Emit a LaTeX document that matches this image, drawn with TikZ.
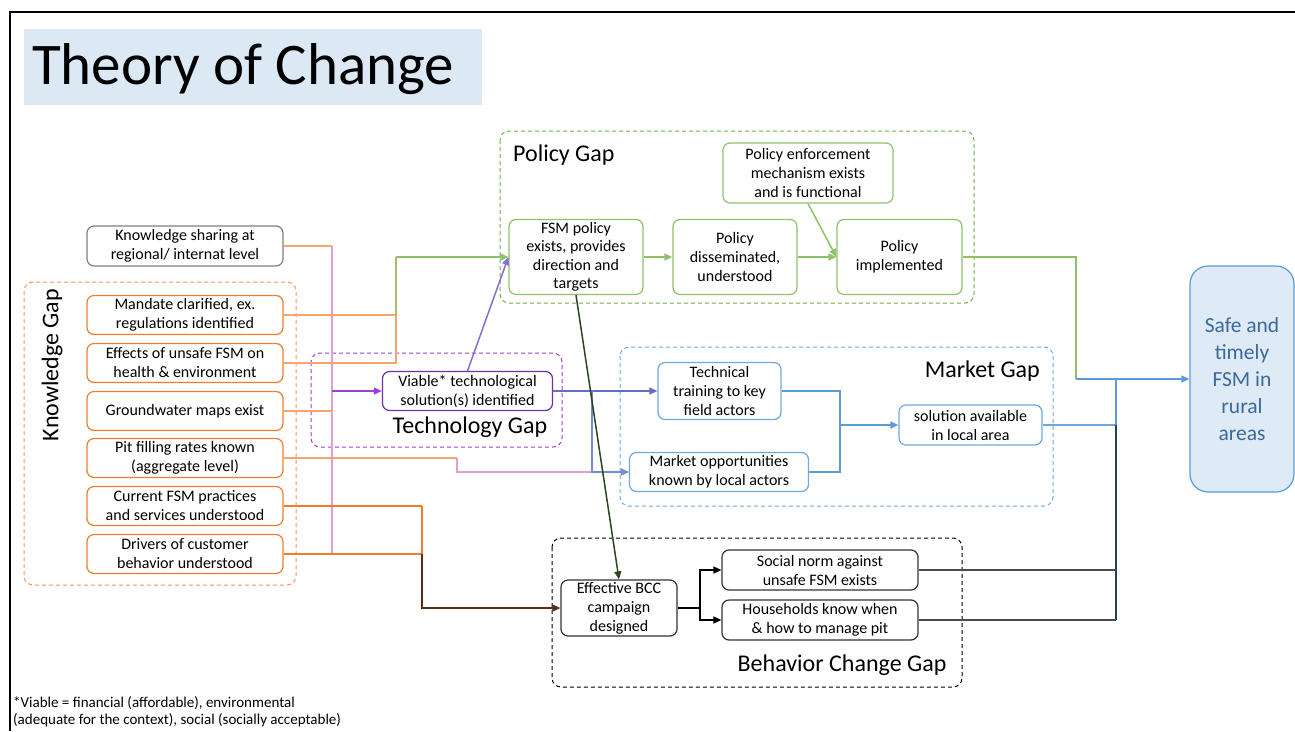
\documentclass[tikz,border=0pt]{standalone}
\usepackage{fontspec}
\setmainfont{Carlito}
\usetikzlibrary{arrows.meta}
\definecolor{korange}{HTML}{ED7D31}
\definecolor{lorange}{HTML}{F4A46C}
\definecolor{pgreen}{HTML}{70AD47}
\definecolor{lgreen}{HTML}{8DC26A}
\definecolor{mblue}{HTML}{5B9BD5}
\definecolor{lblue}{HTML}{6FA8DC}
\definecolor{tpurple}{HTML}{7030A0}
\definecolor{dpurple}{HTML}{9B3FD8}
\definecolor{pinkv}{HTML}{DFA0D0}
\definecolor{lavender}{HTML}{8A6BD8}
\definecolor{titlebg}{HTML}{DDE8F5}
\definecolor{safebg}{HTML}{DEEAF6}
\definecolor{safetext}{HTML}{3B6A99}
\definecolor{brownl}{HTML}{5A2E14}
\definecolor{kgray}{HTML}{7F7F7F}
\begin{document}
\begin{tikzpicture}[x=1pt,y=-1pt,
  box/.style={rounded corners=7pt, line width=1.2pt, align=center, inner sep=0pt, fill=white, font=\fontsize{16}{19}\selectfont},
  kbox/.style={box, draw=korange, minimum width=196pt, minimum height=39pt},
  gbox/.style={box, draw=lgreen},
  bbox/.style={box, draw=lblue},
  blkbox/.style={box, draw=black!80},
  gapbox/.style={rounded corners=9pt, line width=1pt, dash pattern=on 4pt off 3pt},
  gaplabel/.style={inner sep=0pt, font=\fontsize{24}{28}\selectfont},
  conn/.style={line width=1.5pt},
  tip/.style={-{Triangle[length=8pt,width=7pt]}}
]
\useasboundingbox (0,0) rectangle (1295,731);
% frame
\draw[line width=2pt] (10,731) -- (10,12) -- (1295,12);
% title
\fill[titlebg] (24,29) rectangle (482,105);
\node[anchor=base west, inner sep=0pt, font=\fontsize{59}{62}\selectfont] (title) at (32,84) {Theory of Change};

% gap containers
\draw[gapbox, draw=korange!80] (24,282) rectangle (296,585);
\node[gaplabel, rotate=90] (kglabel) at (52,365) {Knowledge Gap};
\draw[gapbox, draw=pgreen] (500,131) rectangle (974,303);
\node[gaplabel, anchor=west] (pglabel) at (513,155) {Policy Gap};
\draw[gapbox, draw=dpurple] (311,353) rectangle (562,447);
\node[gaplabel] (tglabel) at (470,427) {Technology Gap};
\draw[gapbox, draw=lblue] (620,347) rectangle (1053,506);
\node[gaplabel, anchor=east] (mglabel) at (1040,371) {Market Gap};
\draw[gapbox, draw=black] (552,538) rectangle (962,687);
\node[gaplabel] (bglabel) at (842,665) {Behavior Change Gap};

% knowledge boxes
\node[kbox, draw=kgray, minimum height=40pt] (ks) at (185,246) {Knowledge sharing at\\regional/ internat level};
\node[kbox] (mand) at (185,315) {Mandate clarified, ex.\\regulations identified};
\node[kbox] (eff) at (185,363) {Effects of unsafe FSM on\\health \& environment};
\node[kbox] (gw) at (185,411) {Groundwater maps exist};
\node[kbox] (pit) at (185,458) {Pit filling rates known\\(aggregate level)};
\node[kbox] (cur) at (185,506) {Current FSM practices\\and services understood};
\node[kbox] (drv) at (185,554) {Drivers of customer\\behavior understood};

% policy boxes
\node[gbox, minimum width=134pt, minimum height=75pt, font=\fontsize{16}{18.5}\selectfont] (fsm) at (576,257) {FSM policy\\exists, provides\\direction and\\targets};
\node[gbox, minimum width=124pt, minimum height=75pt] (dis) at (735,257) {Policy\\disseminated,\\understood};
\node[gbox, minimum width=125pt, minimum height=75pt] (impl) at (899.5,257) {Policy\\implemented};
\node[gbox, minimum width=170pt, minimum height=60pt] (enf) at (808,173) {Policy enforcement\\mechanism exists\\and is functional};

% technology
\node[box, draw=tpurple, minimum width=170pt, minimum height=39pt] (via) at (467.5,391) {Viable* technological\\solution(s) identified};

% market
\node[bbox, minimum width=123pt, minimum height=57pt] (tt) at (719.5,391) {Technical\\training to key\\field actors};
\node[bbox, minimum width=179pt, minimum height=39pt] (mop) at (719,472) {Market opportunities\\known by local actors};
\node[bbox, minimum width=143pt, minimum height=40pt] (sol) at (970.5,425) {solution available\\in local area};

% behavior
\node[blkbox, minimum width=116pt, minimum height=56pt] (bcc) at (619,608) {Effective BCC\\campaign\\designed};
\node[blkbox, minimum width=196pt, minimum height=40pt] (soc) at (820,570) {Social norm against\\unsafe FSM exists};
\node[blkbox, minimum width=196pt, minimum height=40pt] (hh) at (820,620) {Households know when\\\& how to manage pit};

% outcome
\node[draw=mblue, fill=safebg, rounded corners=18pt, line width=1.2pt, minimum width=104pt, minimum height=226pt, align=center, text=safetext, inner sep=0pt, font=\fontsize{21.5}{27}\selectfont] (safe) at (1242,379) {Safe and\\timely\\FSM in\\rural\\areas};

% coordinates
\coordinate (kv1) at (332,246);
\coordinate (kv2) at (332,554);
\coordinate (kvp) at (332,391);
\coordinate (gv) at (396,257);
\coordinate (bv) at (422,608);
\coordinate (pv) at (457,472);
\coordinate (mv) at (592,472);
\coordinate (mvt) at (592,391);
\coordinate (sv) at (1116,379);
\coordinate (sv2) at (1116,620);
\coordinate (iv) at (1076,379);
\coordinate (tv) at (840,425);
\coordinate (bx) at (700,608);

% knowledge connectors
\draw[conn, lorange] (ks.east) -- (kv1);
\draw[conn, pinkv] (kv1) -- (kv2);
\draw[conn, lorange] (gw.east) -- (gw.east -| kv1);
\draw[conn, lorange] (mand.east) -- (mand.east -| gv);
\draw[conn, lorange] (eff.east) -- (eff.east -| gv) -- (mand.east -| gv);
\draw[conn, lgreen!60!lorange] (mand.east -| gv) -- (gv);
\draw[conn, tip, lgreen] (gv) -- (fsm.west);
\draw[conn, tip, dpurple] (kvp) -- (via.west);
\draw[conn, korange] (cur.east) -- (cur.east -| bv);
\draw[conn, korange] (drv.east) -- (drv.east -| bv);
\draw[conn, korange] (cur.east -| bv) -- (drv.east -| bv);
\draw[conn, tip, brownl] (drv.east -| bv) -- (bv) -- (bcc.west);
\draw[conn, lorange] (pit.east) -- (pit.east -| pv);
\draw[conn, tip, pinkv] (pit.east -| pv) -- (pv) -- (mop.west);

% technology connectors
\draw[conn, tip, lavender] (via.north) -- (fsm.west);
\draw[conn, tip, tpurple!40!mblue] (via.east) -- (tt.west);
\draw[conn, tip, lblue!80!tpurple] (mvt) -- (mv) -- (mop.west);

% policy connectors
\draw[conn, tip, lgreen] (fsm.east) -- (dis.west);
\draw[conn, tip, lgreen] (dis.east) -- (impl.west);
\draw[conn, tip, lgreen] (enf.south) -- (impl.west);
\draw[conn, tip, black!60!pgreen] (fsm.south) -- (bcc.north);
\draw[conn, lgreen] (impl.east) -| (iv);
\draw[conn, tip, mblue] (iv) -- (safe.west);

% market connectors
\draw[conn, tip, mblue] (tt.east) -| (tv) -- (sol.west);
\draw[conn, mblue] (mop.east) -| (tv);
\draw[conn, lblue] (sol.east) -- (sol.east -| sv);
\draw[conn, mblue] (sv) -- (sol.east -| sv);
\draw[conn, black!60!mblue] (sol.east -| sv) -- (sv2);

% behavior connectors
\draw[conn, black] (bcc.east) -- (bx);
\draw[conn, tip, black] (bx) |- (soc.west);
\draw[conn, tip, black] (bx) |- (hh.west);
\draw[conn, black!70] (soc.east) -- (soc.east -| sv);
\draw[conn, black!70] (hh.east) -- (sv2);

% footnote
\node[anchor=north west, align=left, inner sep=0pt, font=\fontsize{15}{17.5}\selectfont] (foot) at (13,696) {*Viable = financial (affordable), environmental\\(adequate for the context), social (socially acceptable)};
\end{tikzpicture}
\end{document}
